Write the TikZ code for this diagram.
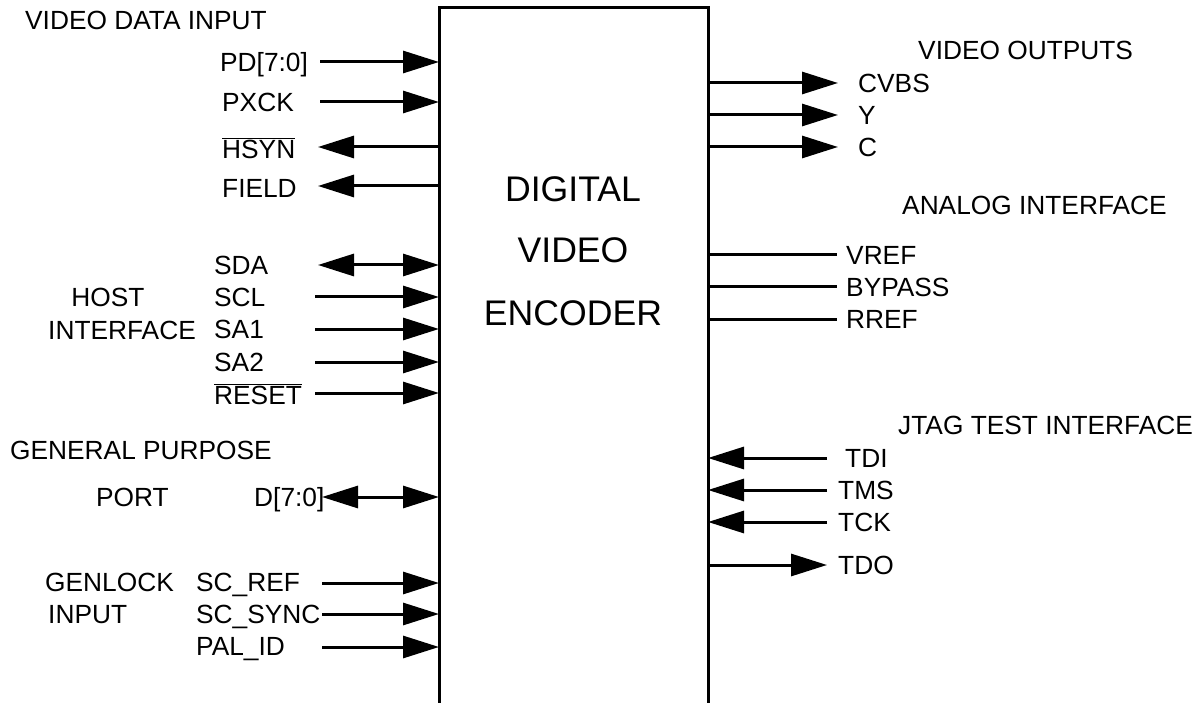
\documentclass[tikz,border=0pt]{standalone}
\usepackage{fontspec}
\setmainfont{Liberation Sans}
\usetikzlibrary{arrows.meta}
\newcommand\ovl[1]{\ensuremath{\overline{\mbox{#1}}}}
\begin{document}
\begin{tikzpicture}[x=1pt,y=-1pt,
  lbl/.style={anchor=base west,inner sep=0pt,font=\fontsize{26.3}{30}\selectfont},
  lblc/.style={anchor=base,inner sep=0pt,font=\fontsize{26.3}{30}\selectfont},
  big/.style={anchor=base,inner sep=0pt,font=\fontsize{35.6}{40}\selectfont},
  wire/.style={line width=3pt},
  sig/.style={wire,-{Triangle[length=36pt,width=22pt]}},
  bsig/.style={wire,{Triangle[length=36pt,width=22pt]}-{Triangle[length=36pt,width=22pt]}}]
\useasboundingbox (0,0) rectangle (1199,703);
% box
\coordinate (bl) at (439,703);
\coordinate (tl) at (439,8);
\coordinate (tr) at (708,8);
\coordinate (br) at (708,703);
\draw[line width=3pt] (bl) -- (tl) -- (tr) -- (br);
\node[big] (dig) at (573,202) {DIGITAL};
\node[big] (vid) at (573,263) {VIDEO};
\node[big] (enc) at (573,325) {ENCODER};
% left labels
\node[lbl] (vdi) at (25,29.4) {VIDEO DATA INPUT};
\node[lbl] (pd) at (220,71.4) {PD[7:0]};
\node[lbl] (pxck) at (222,111.4) {PXCK};
\node[lbl] (hsyn) at (222,158.4) {\ovl{HSYN}};
\node[lbl] (field) at (222,197.4) {FIELD};
\node[lbl] (sda) at (214,274.4) {SDA};
\node[lbl] (scl) at (214,306.4) {SCL};
\node[lbl] (sa1) at (214,338.4) {SA1};
\node[lbl] (sa2) at (214,371.4) {SA2};
\node[lbl] (reset) at (214,404.4) {\ovl{RESET}};
\node[lblc] (host) at (108,306.4) {HOST};
\node[lbl] (hif) at (48,339.4) {INTERFACE};
\node[lbl] (gp) at (10,459.4) {GENERAL PURPOSE};
\node[lbl] (port) at (96,506.4) {PORT};
\node[lbl] (dd) at (254,506.4) {D[7:0]};
\node[lbl] (gen) at (45,591.4) {GENLOCK};
\node[lbl] (gin) at (48,623.4) {INPUT};
\node[lbl] (scref) at (196,591.4) {SC\_REF};
\node[lbl] (scsync) at (196,623.4) {SC\_SYNC};
\node[lbl] (palid) at (196,655.4) {PAL\_ID};
% right labels
\node[lbl] (vo) at (918,59.4) {VIDEO OUTPUTS};
\node[lbl] (cvbs) at (858,92.4) {CVBS};
\node[lbl] (yy) at (858,124.4) {Y};
\node[lbl] (cc) at (858,156.4) {C};
\node[lbl] (ai) at (902,214.4) {ANALOG INTERFACE};
\node[lbl] (vref) at (846,264.4) {VREF};
\node[lbl] (byp) at (846,296.4) {BYPASS};
\node[lbl] (rref) at (846,328.4) {RREF};
\node[lbl] (jtag) at (898,434.4) {JTAG TEST INTERFACE};
\node[lbl] (tdi) at (845,467.4) {TDI};
\node[lbl] (tms) at (838,499.4) {TMS};
\node[lbl] (tck) at (838,531.4) {TCK};
\node[lbl] (tdo) at (838,574.4) {TDO};
% pin coordinates
\foreach \n/\x/\y in {pdA/320/62,pdB/439/62,pxA/320/102,pxB/439/102,
  hsA/318/147,hsB/439/147,fiA/318/186,fiB/439/186,
  sdA/318/265,sdB/439/265,scA/315/297,scB/439/297,
  s1A/315/329,s1B/439/329,s2A/315/362,s2B/439/362,
  rsA/315/393,rsB/439/393,ddA/322/497,ddB/439/497,
  srA/322/583,srB/439/583,ssA/322/614,ssB/439/614,paA/322/647,paB/439/647,
  cvA/708/83,cvB/838/83,yA/708/115,yB/838/115,cA/708/147,cB/838/147,
  vrA/708/255,vrB/837/255,bpA/708/287,bpB/837/287,rrA/708/319,rrB/837/319,
  tiA/708/458,tiB/827/458,tmA/708/490,tmB/827/490,tkA/708/522,tkB/827/522,
  toA/708/565,toB/827/565}
  {\coordinate (\n) at (\x,\y);}
% left connectors
\draw[sig] (pdA) -- (pdB);
\draw[sig] (pxA) -- (pxB);
\draw[sig] (hsB) -- (hsA);
\draw[sig] (fiB) -- (fiA);
\draw[bsig] (sdA) -- (sdB);
\draw[sig] (scA) -- (scB);
\draw[sig] (s1A) -- (s1B);
\draw[sig] (s2A) -- (s2B);
\draw[sig] (rsA) -- (rsB);
\draw[bsig] (ddA) -- (ddB);
\draw[sig] (srA) -- (srB);
\draw[sig] (ssA) -- (ssB);
\draw[sig] (paA) -- (paB);
% right connectors
\draw[sig] (cvA) -- (cvB);
\draw[sig] (yA) -- (yB);
\draw[sig] (cA) -- (cB);
\draw[wire] (vrA) -- (vrB);
\draw[wire] (bpA) -- (bpB);
\draw[wire] (rrA) -- (rrB);
\draw[sig] (tiB) -- (tiA);
\draw[sig] (tmB) -- (tmA);
\draw[sig] (tkB) -- (tkA);
\draw[sig] (toA) -- (toB);
\end{tikzpicture}
\end{document}
